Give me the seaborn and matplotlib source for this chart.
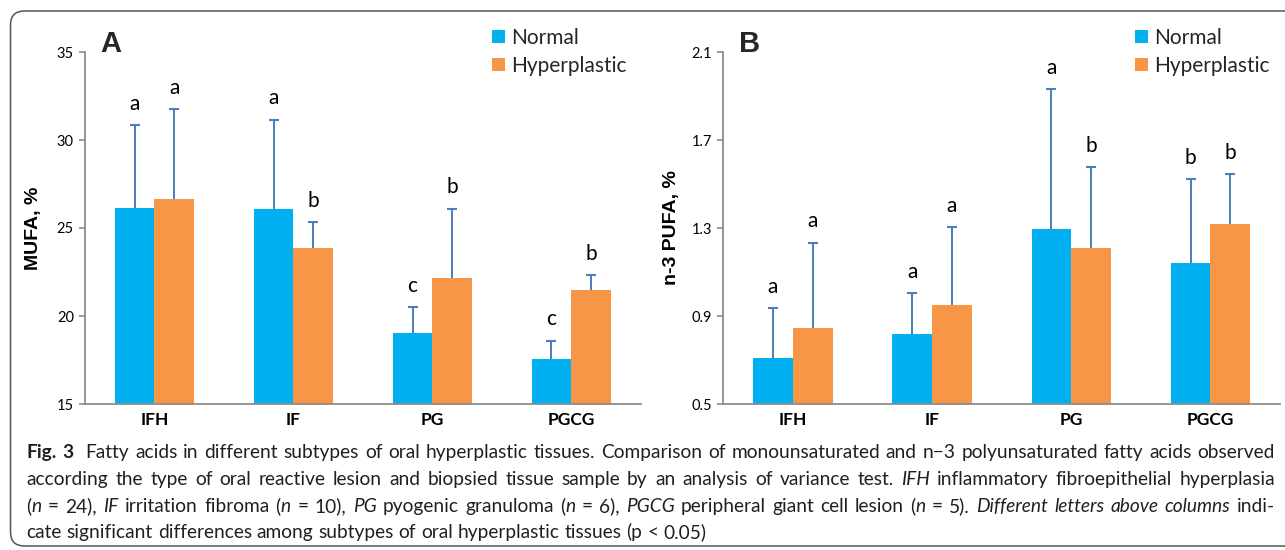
import numpy as np
import pandas as pd
import seaborn as sns
import matplotlib
matplotlib.use("Agg")
import matplotlib.pyplot as plt
from matplotlib.patches import FancyBboxPatch, Patch
from matplotlib.transforms import IdentityTransform
from matplotlib import font_manager

# ---------------- data ----------------
categories = ["IFH", "IF", "PG", "PGCG"]
groups = ["Normal", "Hyperplastic"]

mufa_normal = [26.15, 26.10, 19.05, 17.55]
mufa_normal_err = [4.70, 5.05, 1.45, 1.05]
mufa_hyper = [26.65, 23.85, 22.15, 21.45]
mufa_hyper_err = [5.10, 1.50, 3.95, 0.88]
mufa_letters_normal = ["a", "a", "c", "c"]
mufa_letters_hyper = ["a", "b", "b", "b"]

pufa_normal = [0.71, 0.82, 1.295, 1.14]
pufa_normal_err = [0.225, 0.185, 0.635, 0.383]
pufa_hyper = [0.845, 0.95, 1.21, 1.32]
pufa_hyper_err = [0.388, 0.355, 0.367, 0.224]
pufa_letters_normal = ["a", "a", "a", "b"]
pufa_letters_hyper = ["a", "a", "b", "b"]

mufa_ticks = [15, 20, 25, 30, 35]
pufa_ticks = [0.5, 0.9, 1.3, 1.7, 2.1]
mufa_tick_labels = ["15", "20", "25", "30", "35"]
pufa_tick_labels = ["0.5", "0.9", "1.3", "1.7", "2.1"]

colors = {"Normal": "#00B0F0", "Hyperplastic": "#F79646"}
err_color = "#4A7EBB"

# ---------------- fonts ----------------
sns.set_theme(style="white")
available = {f.name for f in font_manager.fontManager.ttflist}
chart_font = "Lato" if "Lato" in available else "DejaVu Sans"
arial = "Liberation Sans" if "Liberation Sans" in available else "DejaVu Sans"
cap_font = "Liberation Sans Narrow" if "Liberation Sans Narrow" in available else chart_font
plt.rcParams["font.family"] = [chart_font, "DejaVu Sans"]

W, H = 1285, 550
fig = plt.figure(figsize=(W / 100, H / 100), dpi=100)
fig.patch.set_facecolor("white")

ax_a = fig.add_axes([85 / W, 1 - 404 / H, 555.7 / W, 352 / H])
ax_b = fig.add_axes([723.3 / W, 1 - 404 / H, 556.7 / W, 352 / H])


def panel(ax, normal, normal_err, hyper, hyper_err, ln, lh, ylim, ticks, tlabels, ylabel, legend_x):
    df = pd.DataFrame({
        "cat": categories * 2,
        "group": [groups[0]] * len(categories) + [groups[1]] * len(categories),
        "value": list(normal) + list(hyper),
    })
    sns.barplot(data=df, x="cat", y="value", hue="group", order=categories,
                hue_order=groups, palette=colors, errorbar=None, width=0.57,
                saturation=1, legend=False, ax=ax, linewidth=0, zorder=2)
    errs = {groups[0]: normal_err, groups[1]: hyper_err}
    lets = {groups[0]: ln, groups[1]: lh}
    for cont, g in zip(ax.containers, groups):
        for bar, e, lt in zip(cont.patches, errs[g], lets[g]):
            xc = bar.get_x() + bar.get_width() / 2
            top = bar.get_height()
            ax.vlines(xc, top, top + e, color=err_color, lw=1.4, zorder=3)
            ax.plot([xc], [top + e], marker="_", ms=6.5, mew=1.5, color=err_color, zorder=3)
            ax.annotate(lt, (xc, top + e), xytext=(0, 11), textcoords="offset points",
                        ha="center", va="baseline", fontsize=15, color="black")
    ax.set_ylim(*ylim)
    ax.set_xlim(-0.5, len(categories) - 0.5)
    ax.set_yticks(ticks)
    ax.set_yticklabels(tlabels, fontsize=10.5, color="black")
    ax.set_xticks(range(len(categories)))
    ax.set_xticklabels(categories, fontsize=12.5, fontweight="bold", color="black")
    ax.set_xticks(np.arange(-0.5, len(categories), 1.0), minor=True)
    ax.tick_params(axis="x", which="major", length=0, pad=6)
    ax.tick_params(axis="x", which="minor", length=4.5, width=1.2, color="#8C8C8C", direction="out")
    ax.tick_params(axis="y", which="major", length=4, width=1.2, color="#8C8C8C", direction="out", pad=4, left=True)
    ax.set_xlabel("")
    ax.set_ylabel(ylabel, fontsize=14, fontweight="bold", family=arial, color="black")
    ax.yaxis.set_label_coords(-0.077, 0.5)
    for s in ["top", "right"]:
        ax.spines[s].set_visible(False)
    for s in ["left", "bottom"]:
        ax.spines[s].set_color("#8C8C8C")
        ax.spines[s].set_linewidth(1.3)
    ax.set_facecolor("white")
    handles = [Patch(facecolor=colors[g], edgecolor="none", label=g) for g in groups]
    ax.legend(handles=handles, loc="upper left", bbox_to_anchor=(legend_x, 1.068),
              frameon=False, fontsize=15, handlelength=0.62, handleheight=0.62,
              handletextpad=0.3, labelspacing=0.38, borderpad=0, borderaxespad=0)


panel(ax_a, mufa_normal, mufa_normal_err, mufa_hyper, mufa_hyper_err,
      mufa_letters_normal, mufa_letters_hyper, (15, 35), mufa_ticks, mufa_tick_labels,
      "MUFA, %", 0.733)
panel(ax_b, pufa_normal, pufa_normal_err, pufa_hyper, pufa_hyper_err,
      pufa_letters_normal, pufa_letters_hyper, (0.5, 2.1), pufa_ticks, pufa_tick_labels,
      "n-3 PUFA, %", 0.739)

fig.text(100 / W, 1 - 52 / H, "A", fontsize=21, fontweight="bold", family=arial, va="baseline")
fig.text(739 / W, 1 - 52 / H, "B", fontsize=21, fontweight="bold", family=arial, va="baseline")

# rounded frame
frame = FancyBboxPatch((10.5, H - 546), 1400, 535, boxstyle="round,pad=0,rounding_size=14",
                       transform=IdentityTransform(), facecolor="none", edgecolor="#555555", lw=1.1)
fig.patches.append(frame)

# ---------------- caption ----------------
cap_lines = [
    [[("Fig.", "b")], [("3", "b")], [("", "r")], [("Fatty", "r")]] + [[(w, "r")] for w in
        "acids in different subtypes of oral hyperplastic tissues. Comparison of monounsaturated and n\u22123 polyunsaturated fatty acids observed".split()],
    [[(w, "r")] for w in "according the type of oral reactive lesion and biopsied tissue sample by an analysis of variance test.".split()]
    + [[("IFH", "i")]] + [[(w, "r")] for w in "inflammatory fibroepithelial hyperplasia".split()],
    [[("(", "r"), ("n", "i")], [("=", "r")], [("24),", "r")], [("IF", "i")], [("irritation", "r")], [("fibroma", "r")],
     [("(", "r"), ("n", "i")], [("=", "r")], [("10),", "r")], [("PG", "i")], [("pyogenic", "r")], [("granuloma", "r")],
     [("(", "r"), ("n", "i")], [("=", "r")], [("6),", "r")], [("PGCG", "i")], [("peripheral", "r")], [("giant", "r")],
     [("cell", "r")], [("lesion", "r")], [("(", "r"), ("n", "i")], [("=", "r")], [("5).", "r")],
     [("Different", "i")], [("letters", "i")], [("above", "i")], [("columns", "i")], [("indi-", "r")]],
    [[(w, "r")] for w in "cate significant differences among subtypes of oral hyperplastic tissues (p < 0.05)".split()],
]
justify = [True, True, True, False]
baselines = [458.3, 485.0, 511.7, 538.4]
x_left, x_right = 26.5, 1275.0
cap_color = "#231F20"

fig.canvas.draw()
renderer = fig.canvas.get_renderer()


def style_kw(st, fs):
    kw = dict(fontsize=fs, color=cap_color, family=[cap_font, "DejaVu Sans"])
    if st == "b":
        kw["fontweight"] = "bold"
    if st == "i":
        kw["fontstyle"] = "italic"
    return kw


def width_of(s, st, fs):
    if s == "":
        return 0.0
    t = fig.text(0, 0, s, **style_kw(st, fs))
    w = t.get_window_extent(renderer).width
    t.remove()
    return w


def space_w(fs):
    return width_of("a a", "r", fs) - width_of("aa", "r", fs)


def line_width(line, fs):
    ws = [sum(width_of(s, st, fs) for s, st in tok) for tok in line]
    return sum(ws) + space_w(fs) * (len(line) - 1), ws


base_fs = 10.0
nat, _ = line_width(cap_lines[0], base_fs)
fs = base_fs * (x_right - x_left) / nat * 0.99

for line, just, bl in zip(cap_lines, justify, baselines):
    total, ws = line_width(line, fs)
    sw = space_w(fs)
    if just and len(line) > 1:
        gap = ((x_right - x_left) - sum(ws)) / (len(line) - 1)
    else:
        gap = sw
    x = x_left
    for tok, w in zip(line, ws):
        xx = x
        for s, st in tok:
            if s:
                fig.text(xx / W, 1 - bl / H, s, va="baseline", ha="left", **style_kw(st, fs))
            xx += width_of(s, st, fs)
        x += w + gap

fig.savefig("out.png", dpi=100, facecolor="white")
